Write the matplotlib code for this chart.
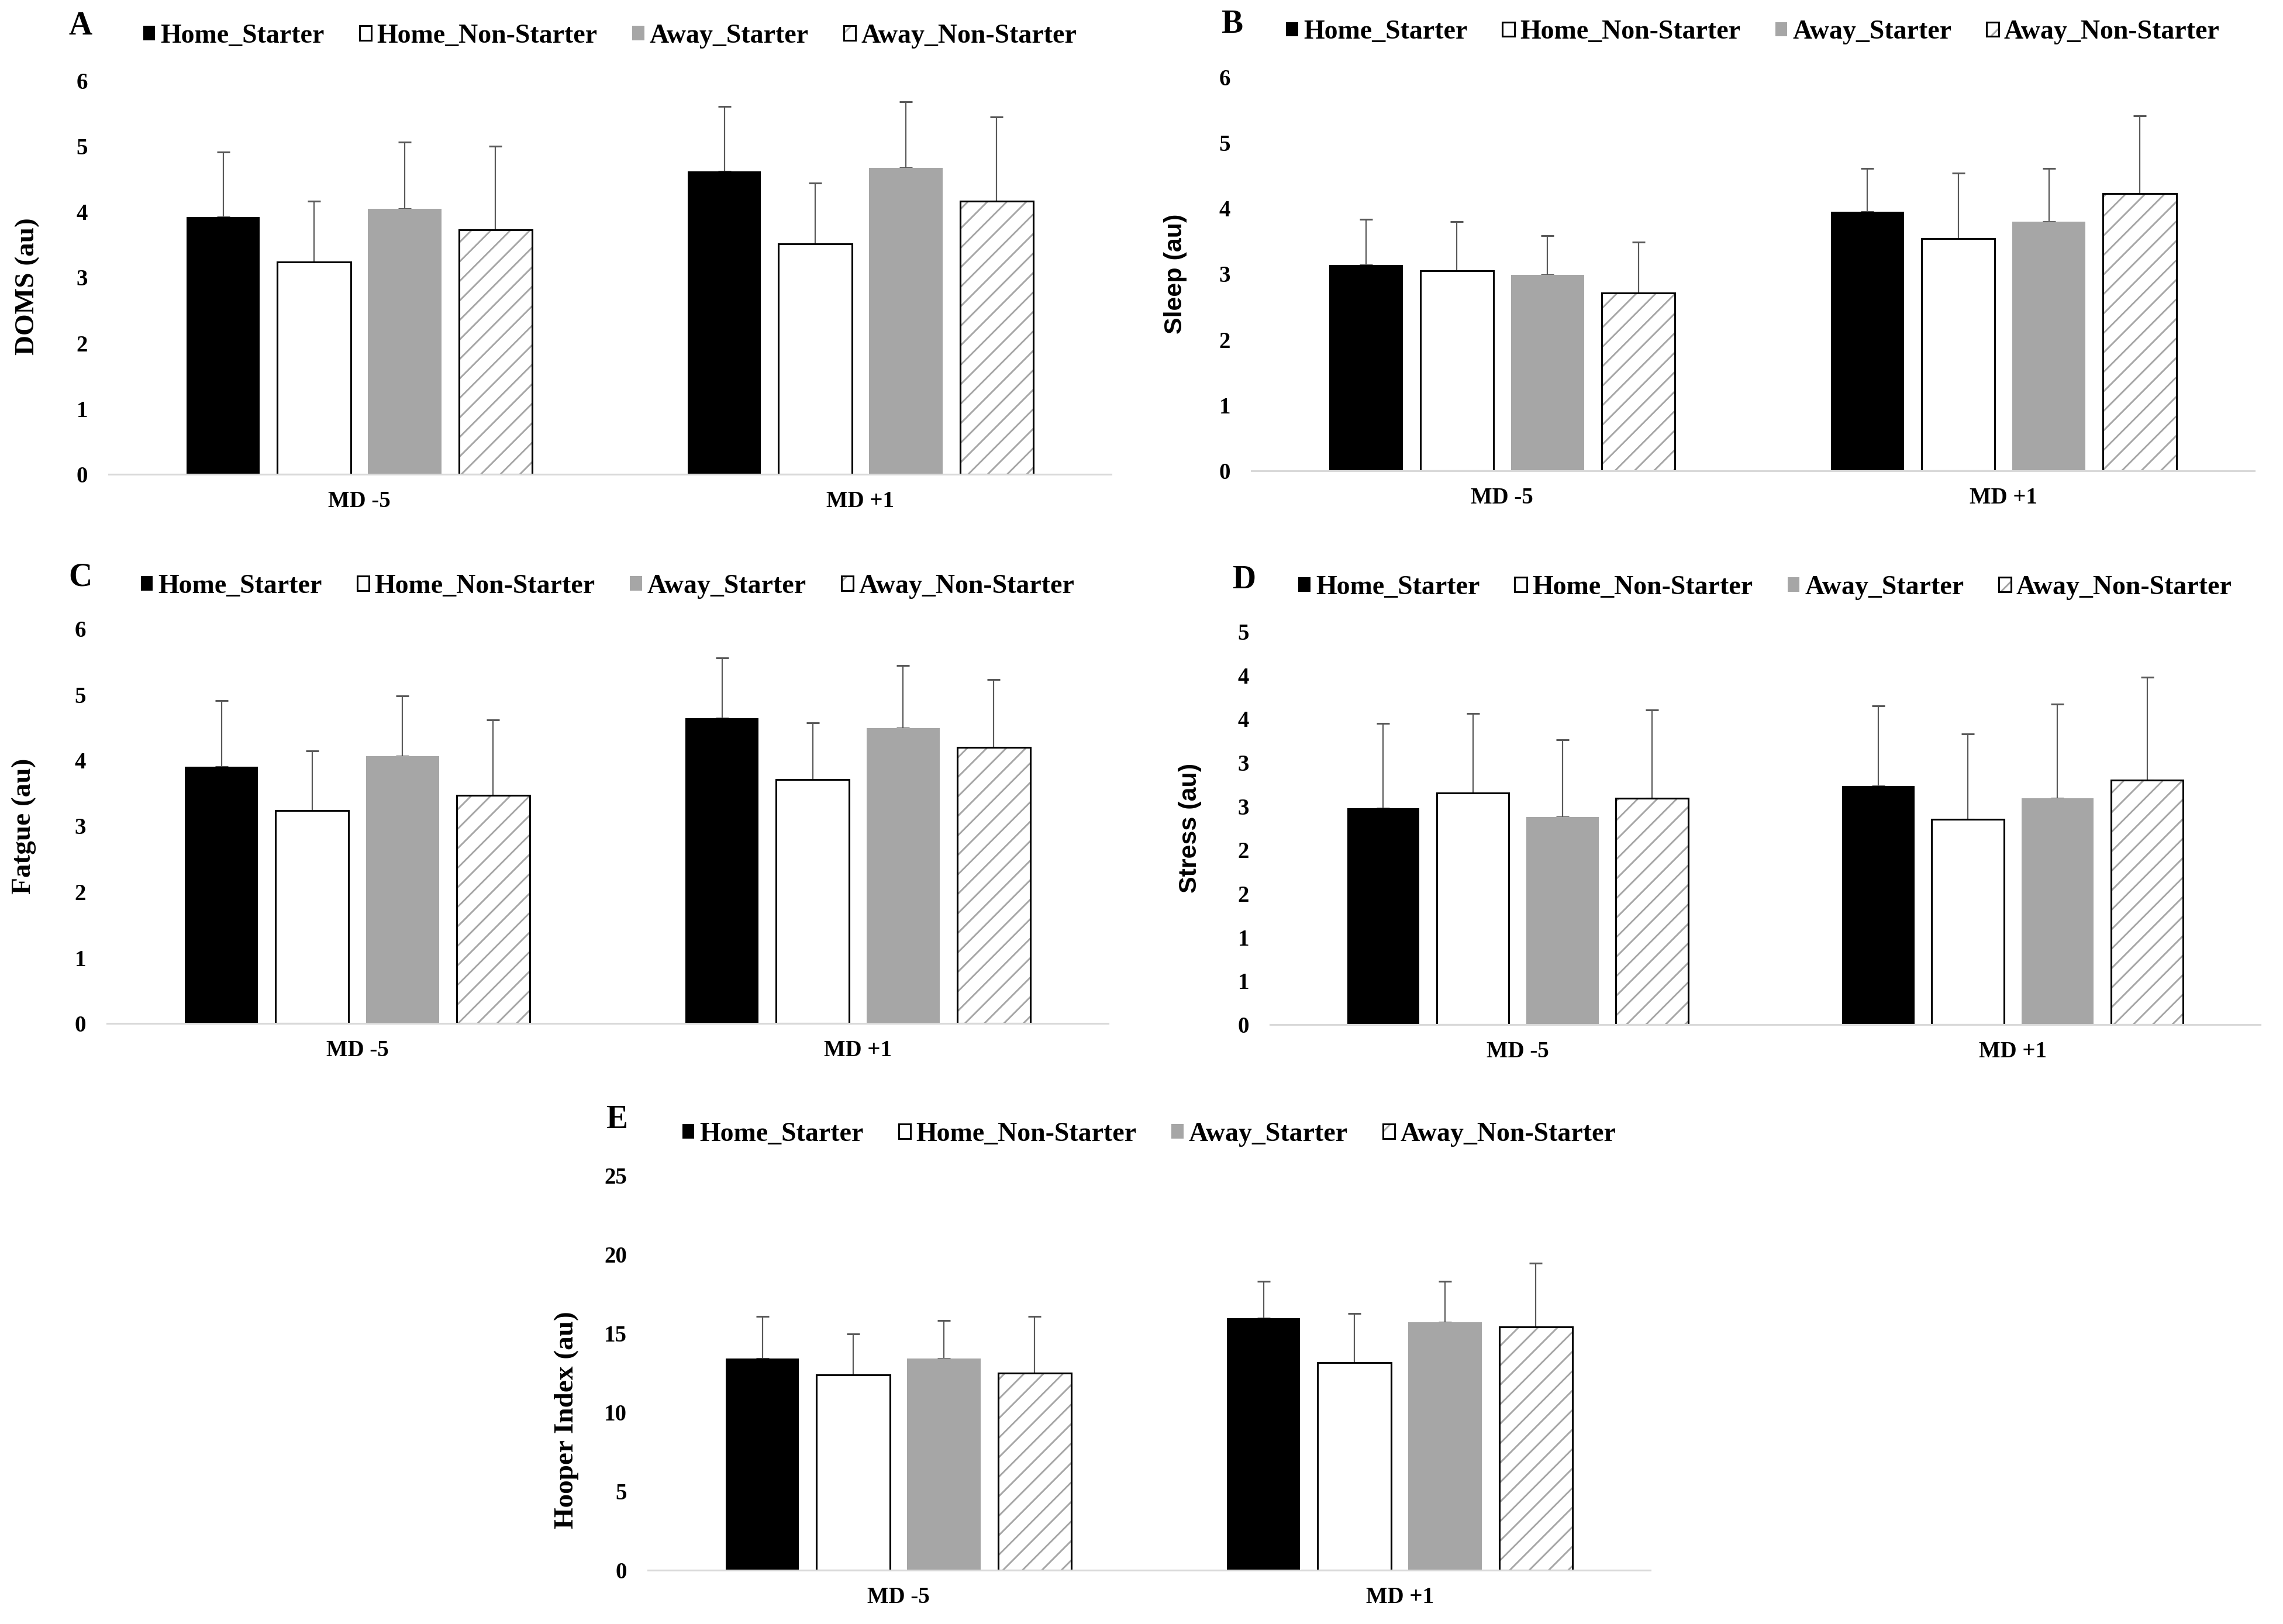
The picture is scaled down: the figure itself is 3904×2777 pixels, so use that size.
import numpy as np
import matplotlib
matplotlib.use('Agg')
import matplotlib.pyplot as plt
from matplotlib.patches import Patch

# figure size in pixels
W, H = 3905, 2777
DPI = 100

days = ['MD -5', 'MD +1']
groups = ['Home_Starter', 'Home_Non-Starter', 'Away_Starter', 'Away_Non-Starter']

# rows = groups (HS, HNS, AS, ANS), columns = days (MD -5, MD +1)
doms_mean = [[3.92, 4.62], [3.24, 3.51], [4.05, 4.67], [3.73, 4.16]]
doms_sd = [[0.99, 0.99], [0.92, 0.93], [1.01, 1.01], [1.27, 1.29]]

sleep_mean = [[3.14, 3.95], [3.05, 3.54], [2.99, 3.80], [2.71, 4.23]]
sleep_sd = [[0.69, 0.66], [0.75, 1.00], [0.59, 0.81], [0.78, 1.18]]

fatigue_mean = [[3.90, 4.64], [3.24, 3.71], [4.06, 4.49], [3.47, 4.20]]
fatigue_sd = [[1.01, 0.92], [0.90, 0.86], [0.92, 0.95], [1.14, 1.03]]

stress_mean = [[2.48, 2.73], [2.65, 2.35], [2.38, 2.59], [2.59, 2.80]]
stress_sd = [[0.97, 0.92], [0.91, 0.98], [0.88, 1.08], [1.01, 1.18]]

hooper_mean = [[13.40, 15.98], [12.36, 13.16], [13.40, 15.72], [12.50, 15.40]]
hooper_sd = [[2.67, 2.30], [2.59, 3.09], [2.40, 2.56], [3.57, 4.03]]

# y tick values and their labels (stress panel uses rounded half steps)
ticks_0_6 = [0, 1, 2, 3, 4, 5, 6]
labels_0_6 = ['0', '1', '2', '3', '4', '5', '6']
ticks_stress = [0, 0.5, 1, 1.5, 2, 2.5, 3, 3.5, 4, 4.5]
labels_stress = ['0', '1', '1', '2', '2', '3', '3', '4', '4', '5']
ticks_hooper = [0, 5, 10, 15, 20, 25]
labels_hooper = ['0', '5', '10', '15', '20', '25']

SERIF = 'Liberation Serif'
SANS = 'Liberation Sans'
GREY = '#a6a6a6'
EDGE_LW = 2.2
BAR_W = 0.146
STEP = 0.181


def px_axes(fig, left, right, top, bottom):
    # pixel box -> figure fraction
    return fig.add_axes([left / W, 1 - bottom / H, (right - left) / W, (bottom - top) / H])


def legend_handles():
    return [
        Patch(facecolor='black', edgecolor='black', linewidth=0),
        Patch(facecolor='white', edgecolor='black', linewidth=EDGE_LW),
        Patch(facecolor=GREY, edgecolor=GREY, linewidth=0),
        (Patch(facecolor='white', edgecolor=GREY, hatch='/', linewidth=0),
         Patch(fill=False, edgecolor='black', linewidth=EDGE_LW)),
    ]


def draw_panel(ax, means, sds, ticks, tick_labels, ylabel, ylabel_font, ylabel_x, ylabel_y, legend_y):
    means = np.array(means)
    sds = np.array(sds)
    xc = np.arange(len(days))
    for j in range(len(groups)):
        x = xc + (j - 1.5) * STEP
        m = means[j]
        if j == 0:
            ax.bar(x, m, BAR_W, color='black', linewidth=0, zorder=2)
        elif j == 1:
            ax.bar(x, m, BAR_W, color='white', edgecolor='black', linewidth=EDGE_LW, zorder=2)
        elif j == 2:
            ax.bar(x, m, BAR_W, color=GREY, linewidth=0, zorder=2)
        else:
            ax.bar(x, m, BAR_W, color='white', edgecolor=GREY, hatch='/', linewidth=0, zorder=2)
            ax.bar(x, m, BAR_W, fill=False, edgecolor='black', linewidth=EDGE_LW, zorder=3)
        ax.errorbar(x, m, yerr=[np.zeros_like(m), sds[j]], fmt='none', ecolor='#595959',
                    elinewidth=1.6, capsize=8, capthick=2.2, zorder=1)

    ax.set_xlim(-0.5, len(days) - 0.5)
    ax.set_ylim(ticks[0], ticks[-1])
    ax.set_xticks(xc)
    ax.set_xticklabels(days, fontfamily=SERIF, fontweight='bold', fontsize=28)
    ax.set_yticks(ticks)
    ax.set_yticklabels(tick_labels, fontfamily=SERIF, fontweight='bold', fontsize=28)
    ax.tick_params(axis='x', length=0, pad=20)
    ax.tick_params(axis='y', length=0, pad=26)
    for s in ['left', 'top', 'right']:
        ax.spines[s].set_visible(False)
    ax.spines['bottom'].set_color('#d9d9d9')
    ax.spines['bottom'].set_linewidth(2.2)
    ax.spines['bottom'].set_zorder(4)

    ax.set_ylabel(ylabel, fontfamily=ylabel_font, fontweight='bold',
                  fontsize=34 if ylabel_font == SERIF else 31)
    bb = ax.get_position()
    ax.yaxis.set_label_coords((ylabel_x / W - bb.x0) / bb.width, ylabel_y)

    ax.legend(legend_handles(), groups, loc='center', bbox_to_anchor=(0.5, legend_y),
              ncol=4, frameon=False, handlelength=0.45, handleheight=0.45,
              handletextpad=0.2, columnspacing=1.3,
              prop={'family': SERIF, 'weight': 'bold', 'size': 33})


plt.rcParams['hatch.linewidth'] = 2.1
plt.rcParams['hatch.color'] = GREY

fig = plt.figure(figsize=(W / DPI, H / DPI), dpi=DPI)

ax_a = px_axes(fig, 186, 1900, 138, 811)
draw_panel(ax_a, doms_mean, doms_sd, ticks_0_6, labels_0_6, 'DOMS (au)', SERIF, 68, 0.478, 1.113)

ax_b = px_axes(fig, 2140, 3855, 132, 805)
draw_panel(ax_b, sleep_mean, sleep_sd, ticks_0_6, labels_0_6, 'Sleep (au)', SANS, 2030, 0.5, 1.114)

ax_c = px_axes(fig, 183, 1895, 1075, 1750)
draw_panel(ax_c, fatigue_mean, fatigue_sd, ticks_0_6, labels_0_6, 'Fatgue (au)', SERIF, 62, 0.5, 1.107)

ax_d = px_axes(fig, 2172, 3865, 1080, 1752)
draw_panel(ax_d, stress_mean, stress_sd, ticks_stress, labels_stress, 'Stress (au)', SANS, 2055, 0.5, 1.112)

ax_e = px_axes(fig, 1108, 2822, 2010, 2685)
draw_panel(ax_e, hooper_mean, hooper_sd, ticks_hooper, labels_hooper, 'Hooper Index (au)', SERIF, 990, 0.38, 1.104)

# panel letters
for letter, (px, py) in zip('ABCDE', [(138, 45), (2107, 42), (137, 987), (2127, 992), (1055, 1915)]):
    fig.text(px / W, 1 - py / H, letter, ha='center', va='center',
             fontfamily=SERIF, fontweight='bold', fontsize=40)

fig.savefig('out.png', dpi=DPI, facecolor='white')
